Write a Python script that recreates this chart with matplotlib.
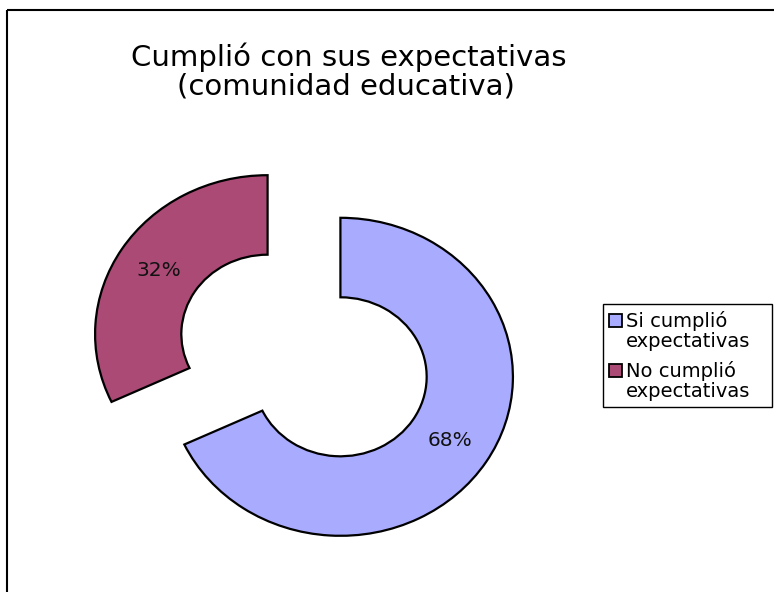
import matplotlib
matplotlib.use("Agg")
import matplotlib.pyplot as plt
from matplotlib.patches import Rectangle

categories = ["Si cumplió\nexpectativas", "No cumplió\nexpectativas"]
values = [68, 32]
colors = ["#a9abff", "#aa4a75"]
title_lines = ["Cumplió con sus expectativas", "(comunidad educativa)"]

W, H = 774, 592
fig = plt.figure(figsize=(W / 100, H / 100), dpi=100)
plt.rcParams['font.family'] = ['DejaVu Sans']

# pie axes (stretched horizontally like the original)
cx, cy = 304, 355.5
rx, ry = 172.5, 159
lim = 1.5
ax = fig.add_axes([(cx - lim * rx) / W, (H - cy - lim * ry) / H,
                   2 * lim * rx / W, 2 * lim * ry / H])
wedges, texts, autotexts = ax.pie(
    values, colors=colors, startangle=90, counterclock=False,
    explode=[0.25, 0.25], autopct='%.0f%%', pctdistance=0.75,
    wedgeprops=dict(width=0.5, edgecolor='black', linewidth=1.6),
    textprops=dict(fontsize=14.5, color='#111111'))
ax.set_aspect('auto')
ax.set_xlim(-lim, lim)
ax.set_ylim(-lim, lim)
ax.axis('off')

# overlay in pixel coordinates
ov = fig.add_axes([0, 0, 1, 1], zorder=-1)
ov.set_xlim(0, W)
ov.set_ylim(H, 0)
ov.axis('off')
ov.patch.set_alpha(0)
ov.add_patch(Rectangle((6.5, 10), W + 20, H + 20, fill=False,
                       edgecolor='black', linewidth=1.5))

ov2 = fig.add_axes([0, 0, 1, 1], zorder=5)
ov2.set_xlim(0, W)
ov2.set_ylim(H, 0)
ov2.axis('off')
ov2.patch.set_alpha(0)
ov2.text(349, 66, title_lines[0], ha='center', va='baseline', fontsize=21)
ov2.text(346, 95, title_lines[1], ha='center', va='baseline', fontsize=21)

# legend
ov2.add_patch(Rectangle((603, 304), 169, 103, fill=True, facecolor='white',
                        edgecolor='black', linewidth=1.0))
ys = [314, 364]
for lab, col, y in zip(categories, colors, ys):
    ov2.add_patch(Rectangle((609, y), 13, 13, facecolor=col,
                            edgecolor='black', linewidth=1.3))
    l1, l2 = lab.split("\n")
    ov2.text(626, y + 13, l1, ha='left', va='baseline', fontsize=14)
    ov2.text(626, y + 33, l2, ha='left', va='baseline', fontsize=14)

fig.savefig("out.png", dpi=100)
